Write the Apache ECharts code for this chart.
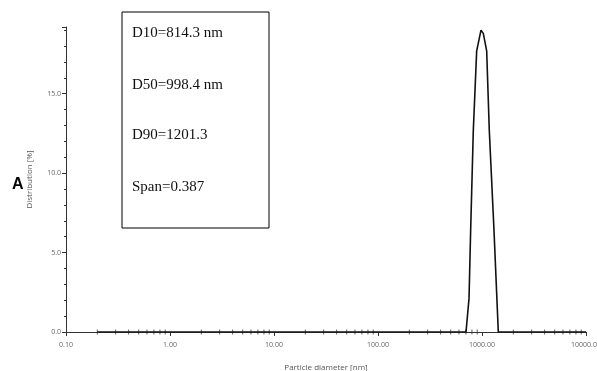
<!DOCTYPE html>
<html>
<head>
<meta charset="utf-8">
<script src="https://cdn.jsdelivr.net/npm/echarts@6/dist/echarts.min.js"></script>
<style>html,body{margin:0;padding:0;background:#fff;overflow:hidden}#c{width:597px;height:371px}</style>
</head>
<body>
<div id="c"></div>
<script>
// Particle diameter (nm) and distribution (%)
var diameters = [0.2, 702, 750, 778, 825, 889, 978, 1029, 1109, 1175, 1304, 1435, 10000];
var distribution = [0, 0, 2.1, 6.4, 12.7, 17.7, 19.0, 18.8, 17.7, 12.7, 6.4, 0, 0];
// log minor tick positions
var minorTicks = [0.2,0.3,0.4,0.5,0.6,0.7,0.8,0.9,
  2,3,4,5,6,7,8,9, 20,30,40,50,60,70,80,90,
  200,300,400,500,600,700,800,900, 2000,3000,4000,5000,6000,7000,8000,9000];
var statLines = ['D10=814.3 nm', 'D50=998.4 nm', 'D90=1201.3', 'Span=0.387'];

var chart = echarts.init(document.getElementById('c'), null, { width: 597, height: 371 });
var axisFont = 'Open Sans, sans-serif';
var lineData = diameters.map(function (d, i) { return [d, distribution[i]]; });
var tickData = minorTicks.map(function (d) { return [d, 0]; });

var graphics = [
  { type: 'rect', shape: { x: 122, y: 12, width: 147, height: 216 },
    style: { fill: '#fff', stroke: '#000', lineWidth: 1 }, z: 10 },
  { type: 'text', left: 12, top: 177,
    style: { text: 'A', font: 'bold 16px "Liberation Sans Narrow", "Liberation Sans", sans-serif', fill: '#000' }, z: 10 }
];
var rowY = [33, 85, 135, 187];
statLines.forEach(function (t, i) {
  graphics.push({ type: 'text', x: 132, y: rowY[i],
    style: { text: t, font: '15px "Liberation Serif", serif', fill: '#111', verticalAlign: 'middle' }, z: 11 });
});

chart.setOption({
  animation: false,
  backgroundColor: '#fff',
  grid: { left: 66, right: 11, top: 27, bottom: 39, containLabel: false, outerBoundsMode: 'none' },
  xAxis: {
    type: 'log', logBase: 10, min: 0.1, max: 10000, interval: 1,
    name: 'Particle diameter [nm]', nameLocation: 'middle', nameGap: 32,
    nameTextStyle: { fontFamily: axisFont, fontSize: 8, color: '#555' },
    axisLine: { lineStyle: { color: '#333', width: 1 } },
    axisTick: { show: true, length: 4, lineStyle: { color: '#333' } },
    axisLabel: { fontFamily: axisFont, fontSize: 7, color: '#666', margin: 9,
      formatter: function (v) { return Number(v).toFixed(2); } },
    splitLine: { show: false }
  },
  yAxis: {
    type: 'value', min: 0, max: 19.2, interval: 5,
    name: 'Distribution [%]', nameLocation: 'middle', nameGap: 32,
    nameTextStyle: { fontFamily: axisFont, fontSize: 8, color: '#555' },
    axisLine: { show: true, lineStyle: { color: '#333', width: 1 } },
    axisTick: { show: true, length: 4, lineStyle: { color: '#333' } },
    minorTick: { show: true, splitNumber: 5, length: 2, lineStyle: { color: '#333' } },
    axisLabel: { fontFamily: axisFont, fontSize: 7, color: '#666', margin: 5, showMaxLabel: false,
      formatter: function (v) { return v.toFixed(1); } },
    splitLine: { show: false }
  },
  series: [
    { type: 'line', data: lineData, symbol: 'none', smooth: false,
      lineStyle: { color: '#111', width: 1.6 }, z: 5 },
    { type: 'scatter', data: tickData, symbol: 'rect', symbolSize: [1, 5],
      itemStyle: { color: '#333' }, silent: true, clip: false, z: 4 }
  ],
  graphic: graphics
});
</script>
</body>
</html>
